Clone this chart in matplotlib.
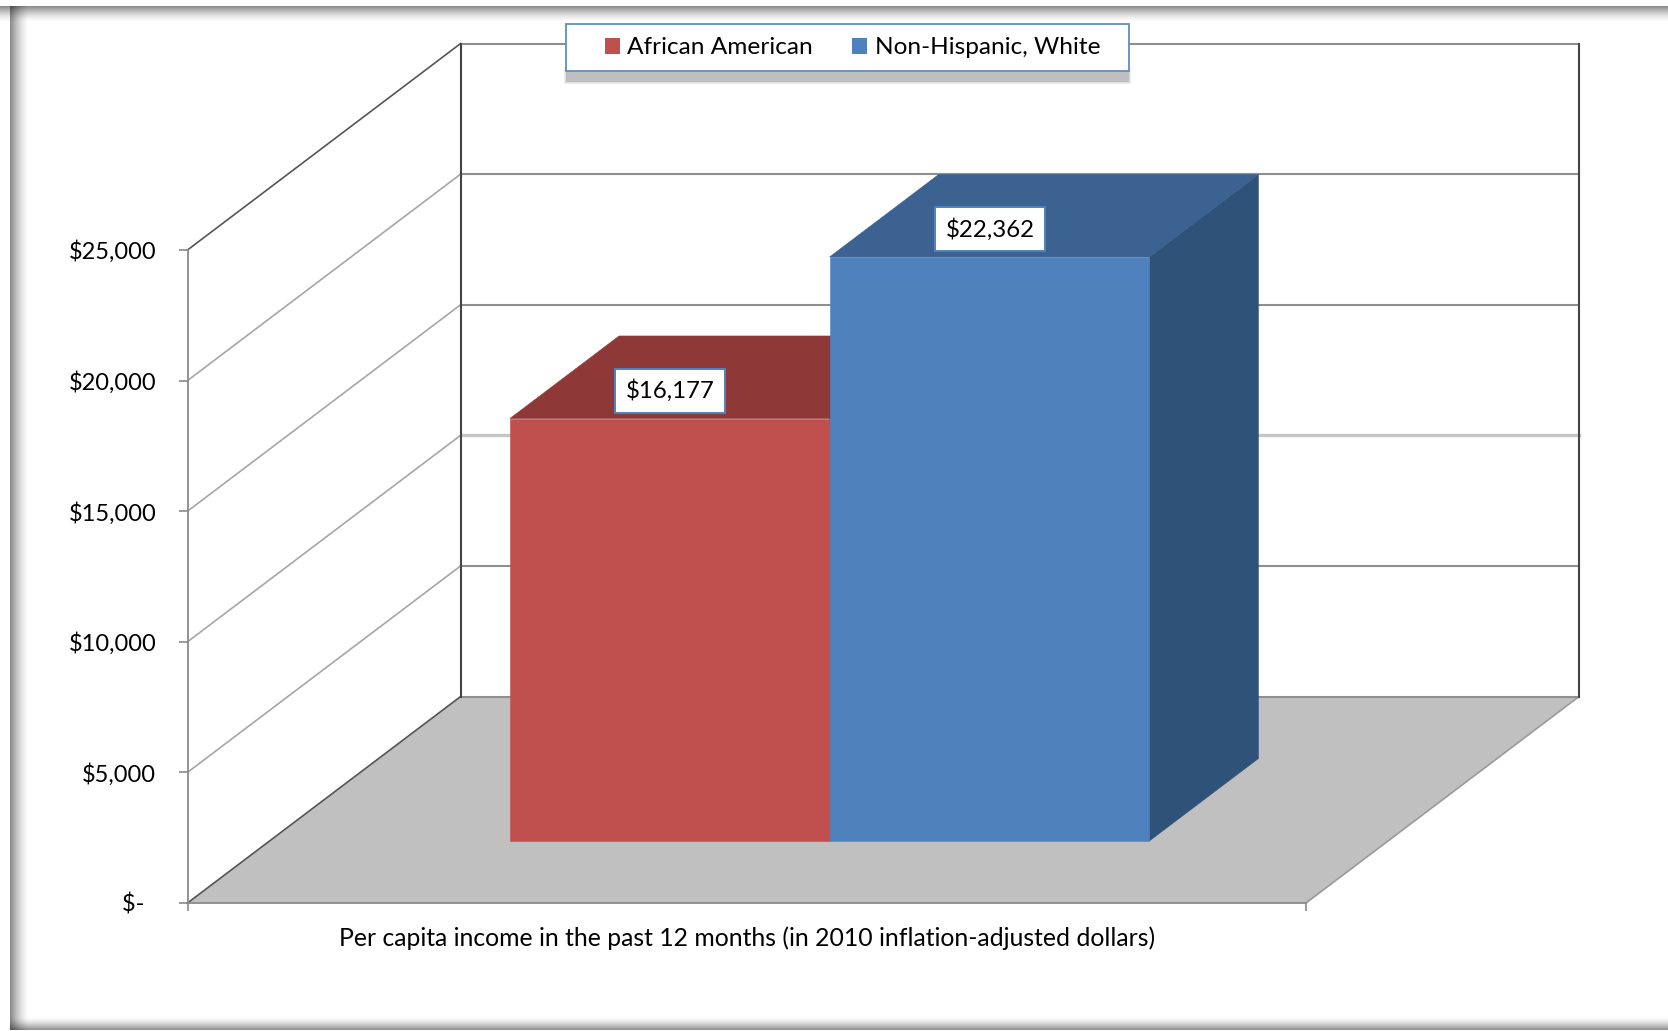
import matplotlib
matplotlib.use('Agg')
import matplotlib.pyplot as plt
from matplotlib.patches import Polygon, Patch, Rectangle
import numpy as np

plt.rcParams['font.family'] = ['Lato', 'DejaVu Sans']

# data
categories = ['African American', 'Non-Hispanic, White']
values = [16177, 22362]
value_labels = ['$16,177', '$22,362']
y_ticks = [0, 5000, 10000, 15000, 20000, 25000]
y_tick_labels = ['$-\u00a0\u00a0', '$5,000', '$10,000', '$15,000', '$20,000', '$25,000']
x_title = 'Per capita income in the past 12 months (in 2010 inflation-adjusted dollars)'

red = ['#C0504D', '#8E3937', '#8E3937']
blue = ['#4F81BD', '#3C6291', '#2F5279']
bar_colors = [red, blue]

W, H = 1668, 1031

# slant of the fake 3d box, in axes data units per unit of depth
DEPTH_X = 273.0 / 1118.5
DEPTH_Y = 206.4 / 653 * 25000
# bars sit on the floor between these depths and x positions
BAR_D0, BAR_D1 = 0.3, 0.7
BAR_X0, BAR_W = 0.215, 0.2858


def proj(x, v, d=0.0):
    # move a point backwards into the chart
    return (x + d * DEPTH_X, v + d * DEPTH_Y)


fig = plt.figure(figsize=(W / 100, H / 100), dpi=100, facecolor='white')

# frame with soft shadow, in pixels
bg = fig.add_axes([0, 0, 1, 1])
bg.axis('off')


def shade(extent, vertical, a0, a1, n=24):
    a = np.linspace(a0, a1, n) ** 1.6
    img = np.zeros((n, 1, 4)) if vertical else np.zeros((1, n, 4))
    img[..., 3] = a.reshape(img.shape[:2])
    bg.imshow(img, extent=extent, aspect='auto', interpolation='bilinear')


shade((0, W, 23, 6), True, 0.62, 0)
shade((10, 30, 1030, 6), False, 0.62, 0)
shade((10, W, 1030, 1016), True, 0, 0.6)
bg.set_xlim(0, W)
bg.set_ylim(H, 0)

ax = fig.add_axes([187.5 / W, (H - 903) / H, 1118.5 / W, 653 / H])
ax.patch.set_visible(False)
ax.set_xlim(0, 1)
ax.set_ylim(0, 25000)

# floor
floor = [proj(0, 0), proj(1, 0), proj(1, 0, 1), proj(0, 0, 1)]
ax.add_patch(Polygon(floor, closed=True, fc='#c0c0c0', ec='none', clip_on=False, zorder=1))
ax.plot(*zip(proj(1, 0), proj(1, 0, 1)), color='#9a9a9a', lw=1.2, clip_on=False, zorder=2)
ax.plot(*zip(proj(0, 0), proj(0, 0, 1)), color='#555555', lw=1.2, clip_on=False, zorder=2)

# walls and gridlines
for t in y_ticks[1:]:
    grid_c = '#c6c6c6' if t == 10000 else '#8f8f8f'
    grid_w = 2.4 if t == 10000 else 1.5
    side_c = '#555555' if t == 25000 else '#a6a6a6'
    ax.plot(*zip(proj(0, t), proj(0, t, 1)), color=side_c, lw=1.2, clip_on=False, zorder=2)
    ax.plot(*zip(proj(0, t, 1), proj(1, t, 1)), color=grid_c, lw=grid_w, clip_on=False, zorder=2)
ax.plot(*zip(proj(0, 0, 1), proj(1, 0, 1)), color='#8f8f8f', lw=1.5, clip_on=False, zorder=2)
for x in [0, 1]:
    ax.plot(*zip(proj(x, 0, 1), proj(x, 25000, 1)), color='#444444', lw=1.5, clip_on=False, zorder=2)

# bars
for i, v in enumerate(values):
    c_front, c_top, c_side = bar_colors[i]
    x0 = BAR_X0 + i * BAR_W
    x1 = x0 + BAR_W
    front = [proj(x0, 0, BAR_D0), proj(x1, 0, BAR_D0), proj(x1, v, BAR_D0), proj(x0, v, BAR_D0)]
    top = [proj(x0, v, BAR_D0), proj(x1, v, BAR_D0), proj(x1, v, BAR_D1), proj(x0, v, BAR_D1)]
    side = [proj(x1, 0, BAR_D0), proj(x1, 0, BAR_D1), proj(x1, v, BAR_D1), proj(x1, v, BAR_D0)]
    z = 3 + i
    for pts, c in [(side, c_side), (top, c_top), (front, c_front)]:
        ax.add_patch(Polygon(pts, closed=True, fc=c, ec=c, lw=0.4, clip_on=False, zorder=z))
    ax.annotate(value_labels[i], xy=proj((x0 + x1) / 2, v, BAR_D0), xytext=(0.5, 20),
                textcoords='offset points', ha='center', va='center', fontsize=17.3,
                color='black', zorder=6,
                bbox=dict(boxstyle='square,pad=0.44', fc='white', ec='#4F81BD', lw=1.4))

# axes
for s in ['top', 'right']:
    ax.spines[s].set_visible(False)
for s in ['left', 'bottom']:
    ax.spines[s].set_color('#8a8a8a')
    ax.spines[s].set_linewidth(1.3)
    ax.spines[s].set_zorder(2)
ax.set_yticks(y_ticks)
ax.set_yticklabels(y_tick_labels, fontsize=17)
ax.set_xticks([0, 1])
ax.set_xticklabels(['', ''])
ax.tick_params(axis='y', length=6.5, width=1.2, color='#8a8a8a', pad=16)
ax.tick_params(axis='x', length=6, width=1.2, color='#8a8a8a')
ax.set_xlabel(x_title, fontsize=17.8, labelpad=7.5)

# legend box with its shadow goes above the plot, drawn by hand so it can be wider than the entries
box = (565.5, 23.5, 563.5, 47.5)
for grow, alpha in [(2, 0.25), (1, 0.4), (0, 1.0)]:
    fig.add_artist(Rectangle(((box[0] - grow) / W, 1 - (82 + grow) / H), (box[2] + 2 * grow) / W, (13 + 2 * grow) / H,
                             transform=fig.transFigure, fc='#bfbfbf', ec='none', alpha=alpha, zorder=4))
fig.add_artist(Rectangle((box[0] / W, 1 - (box[1] + box[3]) / H), box[2] / W, box[3] / H,
                         transform=fig.transFigure, fc='white', ec='#5f8ec6', lw=1.3, zorder=5))
handles = [Patch(fc=red[0], ec='none'), Patch(fc=blue[0], ec='none')]
leg = fig.legend(handles, categories, ncol=2, loc='center', bbox_to_anchor=(852.5 / W, 1 - 48 / H),
                 fontsize=17.6, frameon=False, handlelength=0.62, handleheight=0.62,
                 handletextpad=0.3, columnspacing=1.6, borderaxespad=0)
leg.set_zorder(6)

fig.savefig('out.png', dpi=100)
